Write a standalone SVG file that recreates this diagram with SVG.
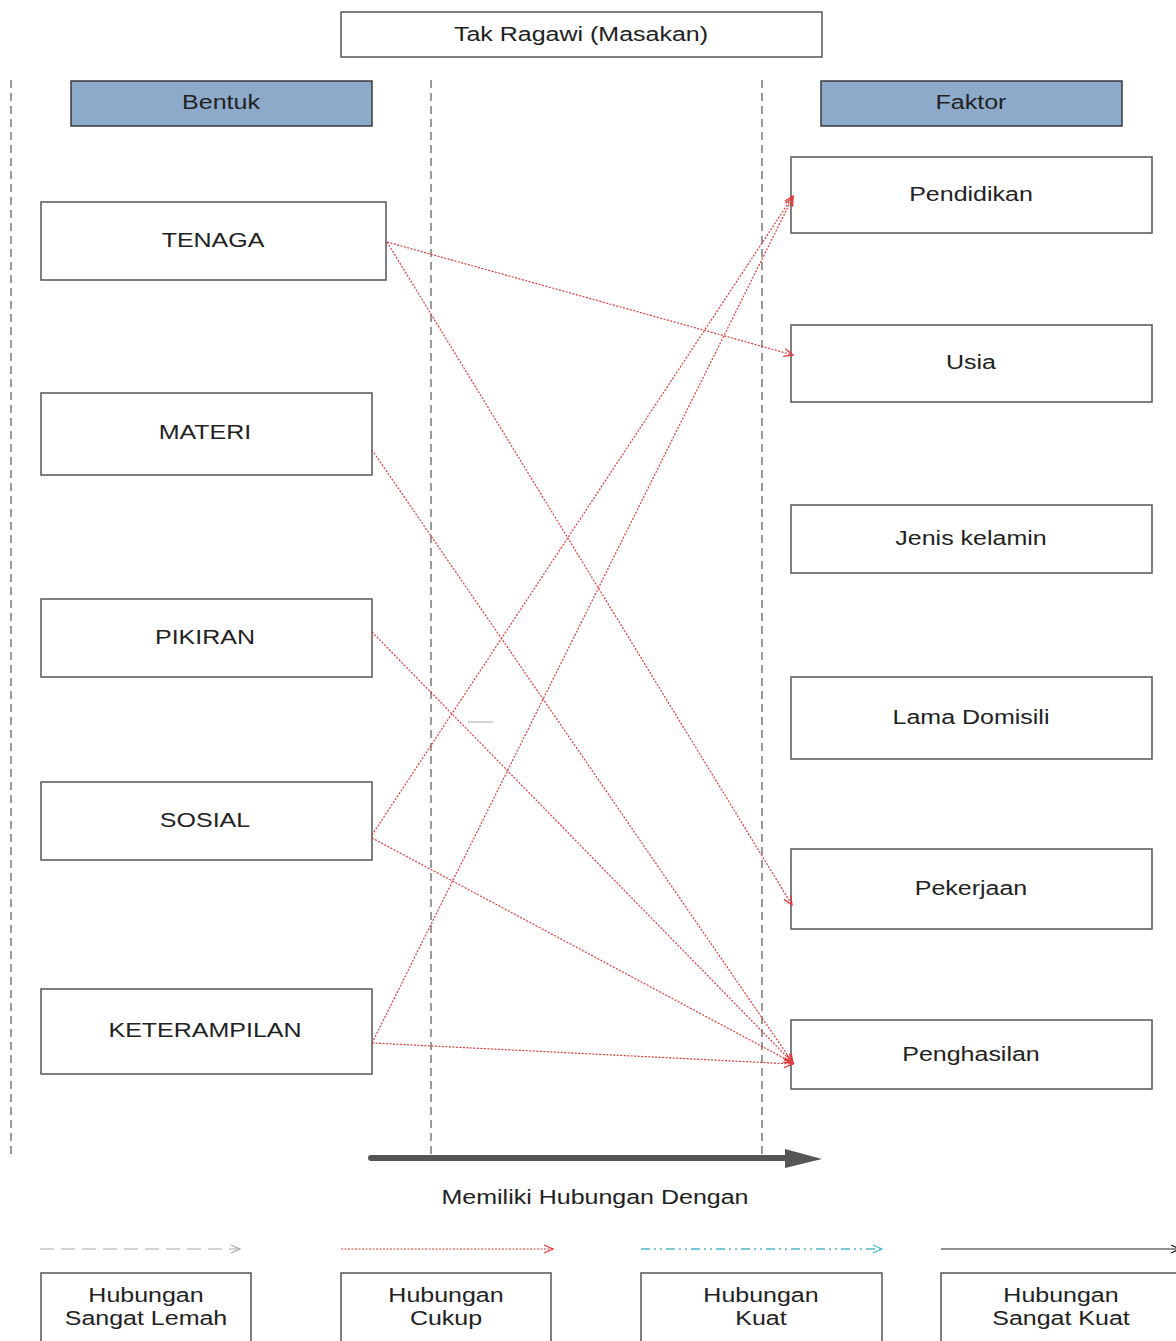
<svg xmlns="http://www.w3.org/2000/svg" width="1176" height="1341" viewBox="0 0 1176 1341">
<defs>
<style>
.box{fill:#fff;stroke:#555;stroke-width:1.5}
.hdr{fill:#8eaacb;stroke:#3a3a3a;stroke-width:1.5}
.t{font-family:"Liberation Sans",Arial,sans-serif;font-size:20px;fill:#222;text-anchor:middle}
.lane{stroke:#9a9a9a;stroke-width:2;stroke-dasharray:8,5;fill:none}
.rel{stroke:#e23a3a;stroke-width:1.2;stroke-dasharray:2,1.5;fill:none;marker-end:url(#ar)}
</style>
<marker id="ar" markerWidth="12" markerHeight="10" refX="10" refY="5" orient="auto" markerUnits="userSpaceOnUse">
<path d="M1,1 L10,5 L1,9" fill="none" stroke="#e23a3a" stroke-width="1.3"/>
</marker>
<marker id="ag" markerWidth="12" markerHeight="10" refX="10" refY="5" orient="auto" markerUnits="userSpaceOnUse">
<path d="M1,1 L10,5 L1,9" fill="none" stroke="#aaa" stroke-width="1.2"/>
</marker>
<marker id="at" markerWidth="12" markerHeight="10" refX="10" refY="5" orient="auto" markerUnits="userSpaceOnUse">
<path d="M1,1 L10,5 L1,9" fill="none" stroke="#4ab8c8" stroke-width="1.2"/>
</marker>
<marker id="ab" markerWidth="12" markerHeight="10" refX="10" refY="5" orient="auto" markerUnits="userSpaceOnUse">
<path d="M1,1 L10,5 L1,9" fill="none" stroke="#222" stroke-width="1.2"/>
</marker>
</defs>
<rect width="1176" height="1341" fill="#fff"/>

<g id="lanes">
<line class="lane" x1="11" y1="80" x2="11" y2="1156"/>
<line class="lane" x1="431" y1="80" x2="431" y2="1156"/>
<line class="lane" x1="762" y1="80" x2="762" y2="1156"/>
</g>

<g id="title"><rect class="box" x="341" y="12" width="481" height="45"/><text class="t" transform="translate(581,41) scale(1.25,1)">Tak Ragawi (Masakan)</text></g>
<g id="bentuk"><rect class="hdr" x="71" y="81" width="301" height="45"/><text class="t" transform="translate(221,109) scale(1.25,1)">Bentuk</text></g>
<g id="faktor"><rect class="hdr" x="821" y="81" width="301" height="45"/><text class="t" transform="translate(971,109) scale(1.25,1)">Faktor</text></g>

<g id="tenaga"><rect class="box" x="41" y="202" width="345" height="78"/><text class="t" transform="translate(213,247) scale(1.25,1)">TENAGA</text></g>
<g id="materi"><rect class="box" x="41" y="393" width="331" height="82"/><text class="t" transform="translate(205,439) scale(1.25,1)">MATERI</text></g>
<g id="pikiran"><rect class="box" x="41" y="599" width="331" height="78"/><text class="t" transform="translate(205,644) scale(1.25,1)">PIKIRAN</text></g>
<g id="sosial"><rect class="box" x="41" y="782" width="331" height="78"/><text class="t" transform="translate(205,827) scale(1.25,1)">SOSIAL</text></g>
<g id="keterampilan"><rect class="box" x="41" y="989" width="331" height="85"/><text class="t" transform="translate(205,1037) scale(1.25,1)">KETERAMPILAN</text></g>

<g id="pendidikan"><rect class="box" x="791" y="157" width="361" height="76"/><text class="t" transform="translate(971,201) scale(1.25,1)">Pendidikan</text></g>
<g id="usia"><rect class="box" x="791" y="325" width="361" height="77"/><text class="t" transform="translate(971,369) scale(1.25,1)">Usia</text></g>
<g id="jenis"><rect class="box" x="791" y="505" width="361" height="68"/><text class="t" transform="translate(971,545) scale(1.25,1)">Jenis kelamin</text></g>
<g id="domisili"><rect class="box" x="791" y="677" width="361" height="82"/><text class="t" transform="translate(971,724) scale(1.25,1)">Lama Domisili</text></g>
<g id="pekerjaan"><rect class="box" x="791" y="849" width="361" height="80"/><text class="t" transform="translate(971,895) scale(1.25,1)">Pekerjaan</text></g>
<g id="penghasilan"><rect class="box" x="791" y="1020" width="361" height="69"/><text class="t" transform="translate(971,1061) scale(1.25,1)">Penghasilan</text></g>

<g id="connectors">
<line class="rel" x1="387" y1="242" x2="793" y2="355"/>
<line class="rel" x1="387" y1="242" x2="792" y2="905"/>
<line class="rel" x1="372" y1="450" x2="793" y2="1063"/>
<line class="rel" x1="372" y1="632" x2="793" y2="1063"/>
<line class="rel" x1="372" y1="835" x2="793" y2="196"/>
<line class="rel" x1="372" y1="838" x2="793" y2="1063"/>
<line class="rel" x1="372" y1="1043" x2="793" y2="197"/>
<line class="rel" x1="372" y1="1043" x2="793" y2="1064"/>
<line x1="468" y1="722" x2="493" y2="722" stroke="#aaa" stroke-width="1"/>
</g>

<g id="main-arrow">
<line x1="371" y1="1158" x2="790" y2="1158" stroke="#555" stroke-width="6" stroke-linecap="round"/>
<polygon points="785,1149 822,1159 785,1168" fill="#555"/>
<text class="t" transform="translate(595,1204) scale(1.25,1)">Memiliki Hubungan Dengan</text>
</g>

<g id="legend">
<line x1="40" y1="1249" x2="240" y2="1249" stroke="#aaa" stroke-width="1.2" stroke-dasharray="14,7" marker-end="url(#ag)"/>
<line x1="341" y1="1249" x2="553" y2="1249" stroke="#e23a3a" stroke-width="1.2" stroke-dasharray="2,1.5" marker-end="url(#ar)"/>
<line x1="641" y1="1249" x2="882" y2="1249" stroke="#4ab8c8" stroke-width="1.4" stroke-dasharray="9,4,2,4,2,4" marker-end="url(#at)"/>
<line x1="941" y1="1249" x2="1180" y2="1249" stroke="#222" stroke-width="1.2" marker-end="url(#ab)"/>
<g id="leg1"><rect class="box" x="41" y="1273" width="210" height="75"/><text class="t" transform="translate(146,1302) scale(1.25,1)">Hubungan</text><text class="t" transform="translate(146,1325) scale(1.25,1)">Sangat Lemah</text></g>
<g id="leg2"><rect class="box" x="341" y="1273" width="210" height="75"/><text class="t" transform="translate(446,1302) scale(1.25,1)">Hubungan</text><text class="t" transform="translate(446,1325) scale(1.25,1)">Cukup</text></g>
<g id="leg3"><rect class="box" x="641" y="1273" width="241" height="75"/><text class="t" transform="translate(761,1302) scale(1.25,1)">Hubungan</text><text class="t" transform="translate(761,1325) scale(1.25,1)">Kuat</text></g>
<g id="leg4"><rect class="box" x="941" y="1273" width="250" height="75"/><text class="t" transform="translate(1061,1302) scale(1.25,1)">Hubungan</text><text class="t" transform="translate(1061,1325) scale(1.25,1)">Sangat Kuat</text></g>
</g>
</svg>
